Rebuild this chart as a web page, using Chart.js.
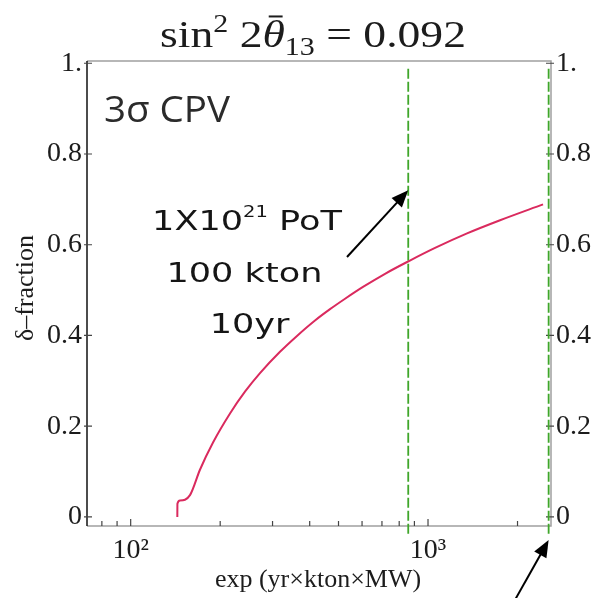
<!DOCTYPE html>
<html>
<head>
<meta charset="utf-8">
<script src="https://cdn.jsdelivr.net/npm/chart.js@4"></script>
<style>
  html, body { margin: 0; padding: 0; background: #fff; }
  #wrap { width: 597px; height: 598px; }
</style>
</head>
<body>
<div id="wrap"><canvas id="chart" width="597" height="598"></canvas></div>
<script>
// 3 sigma CPV delta-fraction vs exposure (yr x kton x MW)
const exposure = [143.5, 143.6, 146.5, 158.3, 171, 189.2, 215.8, 242.3, 272.2, 317.8, 362.5, 416.8, 468.2, 526, 604.4, 716.9, 856.5, 1056, 1353, 1747, 2437];
const deltaFraction = [0, 0.029, 0.036, 0.048, 0.104, 0.164, 0.228, 0.276, 0.317, 0.364, 0.399, 0.433, 0.458, 0.481, 0.507, 0.536, 0.563, 0.593, 0.625, 0.654, 0.689];

// green dashed reference exposures
const markerExposures = [858, 2545];
const markerSpan = [-0.037, 0.993];

const yTicks = [0, 0.2, 0.4, 0.6, 0.8, 1];
const xTicks = [80, 90, 100, 200, 300, 400, 500, 600, 700, 800, 900, 1000, 2000];
const xLabels = { 100: "10²", 1000: "10³" };

const SERIF = "'Liberation Serif', 'DejaVu Serif', serif";
const tickFont = { family: SERIF, size: 28 };
const ink = "#1c1c1c";

function yLabel(v) {
  if (v === 1) return "1.";
  if (v === 0) return "0";
  return v.toFixed(1);
}

function drawArrow(ctx, x0, y0, x1, y1) {
  const ang = Math.atan2(y1 - y0, x1 - x0);
  const len = 17, half = 7;
  ctx.save();
  ctx.strokeStyle = "#000";
  ctx.fillStyle = "#000";
  ctx.lineWidth = 2;
  ctx.beginPath();
  ctx.moveTo(x0, y0);
  ctx.lineTo(x1 - Math.cos(ang) * len * 0.8, y1 - Math.sin(ang) * len * 0.8);
  ctx.stroke();
  ctx.beginPath();
  ctx.moveTo(x1, y1);
  ctx.lineTo(x1 - Math.cos(ang) * len - Math.sin(ang) * half, y1 - Math.sin(ang) * len + Math.cos(ang) * half);
  ctx.lineTo(x1 - Math.cos(ang) * len + Math.sin(ang) * half, y1 - Math.sin(ang) * len - Math.cos(ang) * half);
  ctx.closePath();
  ctx.fill();
  ctx.restore();
}

// draws a run of text pieces (with sub/superscripts) centred on cx
function drawRich(ctx, parts, cx, baseline) {
  let total = 0;
  parts.forEach(p => { ctx.font = p.font; p.w = ctx.measureText(p.t).width; total += p.w; });
  let x = cx - total / 2;
  parts.forEach(p => {
    ctx.font = p.font;
    ctx.fillText(p.t, x, baseline + (p.dy || 0));
    if (p.bar) {
      ctx.fillRect(x + p.w * 0.28, baseline - p.size * 0.83, p.w * 0.62, 2);
    }
    x += p.w;
  });
}

const decorations = {
  id: "decorations",
  beforeDatasetsDraw(chart) {
    const { ctx, chartArea: a, scales } = chart;
    ctx.save();
    // frame
    ctx.lineWidth = 1.5;
    ctx.strokeStyle = "#a0a0a0";
    ctx.beginPath();
    ctx.moveTo(a.left, a.top);
    ctx.lineTo(a.right, a.top);
    ctx.lineTo(a.right, a.bottom);
    ctx.lineTo(a.left, a.bottom);
    ctx.stroke();
    ctx.strokeStyle = "#111";
    ctx.beginPath();
    ctx.moveTo(a.left, a.top);
    ctx.lineTo(a.left, a.bottom);
    ctx.stroke();

    // inward ticks
    ctx.lineWidth = 1.2;
    ctx.strokeStyle = "#444";
    yTicks.forEach(v => {
      const py = scales.y.getPixelForValue(v);
      ctx.beginPath();
      ctx.moveTo(a.left - 3, py); ctx.lineTo(a.left + 5, py);
      ctx.moveTo(a.right - 5, py); ctx.lineTo(a.right + 3, py);
      ctx.stroke();
    });
    xTicks.forEach(v => {
      const px = scales.x.getPixelForValue(v);
      const l = xLabels[v] ? 7 : 5;
      ctx.beginPath();
      ctx.moveTo(px, a.bottom); ctx.lineTo(px, a.bottom - l);
      ctx.stroke();
    });
    ctx.restore();
  },
  afterDraw(chart) {
    const { ctx, scales } = chart;
    ctx.save();
    ctx.fillStyle = ink;
    ctx.textBaseline = "alphabetic";

    // title, stretched a little to the width of the original typesetting
    ctx.save();
    ctx.translate(313, 0);
    ctx.scale(1.2, 1);
    drawRich(ctx, [
      { t: "sin", font: "38px " + SERIF },
      { t: "2", font: "25px " + SERIF, dy: -15 },
      { t: " 2", font: "38px " + SERIF },
      { t: "θ", font: "italic 38px " + SERIF, bar: true, size: 38 },
      { t: "13", font: "25px " + SERIF, dy: 8 },
      { t: " = 0.092", font: "38px " + SERIF }
    ], 0, 47);
    ctx.restore();

    // axis titles
    ctx.font = "26px " + SERIF;
    ctx.textAlign = "center";
    ctx.fillText("exp (yr×kton×MW)", 318, 587);
    ctx.save();
    ctx.translate(33, 288);
    ctx.rotate(-Math.PI / 2);
    ctx.fillText("δ\u2013fraction", 0, 0);
    ctx.restore();

    // label in the corner
    ctx.textAlign = "left";
    ctx.fillStyle = "#2b2b2b";
    ctx.save();
    ctx.translate(104, 122);
    ctx.scale(1.07, 1);
    ctx.font = "36px 'Open Sans', sans-serif";
    ctx.fillText("3σ CPV", 0, 0);
    ctx.restore();

    // hand written note
    ctx.fillStyle = "#151515";
    ctx.save();
    ctx.translate(247, 0);
    ctx.scale(1.3, 1);
    drawRich(ctx, [
      { t: "1X10", font: "27px 'DejaVu Sans', sans-serif" },
      { t: "21", font: "15px 'DejaVu Sans', sans-serif", dy: -13 },
      { t: " PoT", font: "27px 'DejaVu Sans', sans-serif" }
    ], 0, 230);
    drawRich(ctx, [{ t: "100 kton", font: "27px 'DejaVu Sans', sans-serif" }], -2, 282);
    drawRich(ctx, [{ t: "10yr", font: "27px 'DejaVu Sans', sans-serif" }], 2, 333);
    ctx.restore();

    // arrows pointing at the reference exposures
    const X = v => scales.x.getPixelForValue(v);
    const Y = v => scales.y.getPixelForValue(v);
    drawArrow(ctx, X(534), Y(0.573), X(markerExposures[0]), Y(0.72));
    drawArrow(ctx, X(1961), Y(-0.183), X(markerExposures[1]), Y(-0.051));
    ctx.restore();
  }
};

const sharedY = {
  type: "linear",
  min: -0.02,
  max: 1.005,
  grid: { display: false, drawTicks: false },
  border: { display: false },
  afterBuildTicks: s => { s.ticks = yTicks.map(v => ({ value: v })); },
  ticks: { font: tickFont, color: ink, padding: 5, callback: yLabel }
};

new Chart(document.getElementById("chart"), {
  type: "scatter",
  data: {
    datasets: [
      {
        data: exposure.map((x, i) => ({ x, y: deltaFraction[i] })),
        showLine: true,
        borderColor: "#da2a5e",
        borderWidth: 2,
        pointRadius: 0,
        cubicInterpolationMode: "monotone"
      },
      ...markerExposures.map(x => ({
        data: markerSpan.map(y => ({ x, y })),
        showLine: true,
        borderColor: "#3fa62a",
        borderWidth: 1.8,
        borderDash: [10, 3],
        pointRadius: 0,
        clip: false
      }))
    ]
  },
  options: {
    responsive: false,
    animation: false,
    layout: { padding: { top: 61, left: 0, right: 0, bottom: 0 } },
    plugins: { legend: { display: false }, tooltip: { enabled: false } },
    scales: {
      x: {
        type: "logarithmic",
        min: 71.3,
        max: 2592,
        grid: { display: false, drawTicks: false },
        border: { display: false },
        afterBuildTicks: s => { s.ticks = xTicks.map(v => ({ value: v })); },
        ticks: {
          autoSkip: false,
          maxRotation: 0,
          padding: 8,
          font: tickFont,
          color: ink,
          callback: v => xLabels[v] || ""
        },
        afterFit: s => { s.height = 72; }
      },
      y: { ...sharedY, position: "left", afterFit: s => { s.width = 87; } },
      y2: { ...sharedY, position: "right", afterFit: s => { s.width = 46; } }
    }
  },
  plugins: [decorations]
});
</script>
</body>
</html>
